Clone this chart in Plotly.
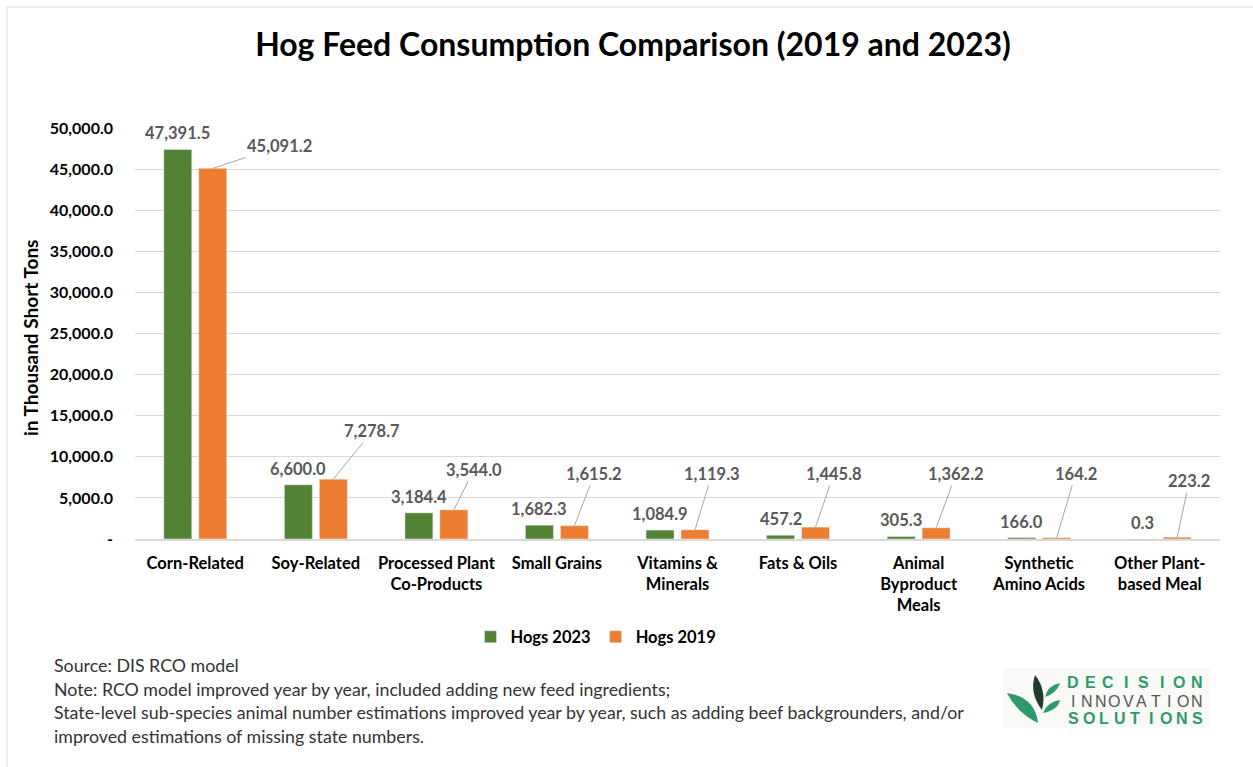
import plotly.graph_objects as go
import numpy as np

# ---------------- data ----------------
categories = ["Corn-Related", "Soy-Related", "Processed Plant<br>Co-Products", "Small Grains",
              "Vitamins &<br>Minerals", "Fats & Oils", "Animal<br>Byproduct<br>Meals",
              "Synthetic<br>Amino Acids", "Other Plant-<br>based Meal"]
hogs_2023 = [47391.5, 6600.0, 3184.4, 1682.3, 1084.9, 457.2, 305.3, 166.0, 0.3]
hogs_2019 = [45091.2, 7278.7, 3544.0, 1615.2, 1119.3, 1445.8, 1362.2, 164.2, 223.2]
y_tickvals = [0, 5000, 10000, 15000, 20000, 25000, 30000, 35000, 40000, 45000, 50000]
y_ticktext = ["-", "5,000.0", "10,000.0", "15,000.0", "20,000.0", "25,000.0",
              "30,000.0", "35,000.0", "40,000.0", "45,000.0", "50,000.0"]

# leader-line offsets (pixels) for the 2019 labels (layout only)
label_offsets_2019 = [(67, -22), (39, -48), (20, -40), (20, -52), (17, -56),
                      (18, -53), (20, -54), (19, -64), (12, -56)]

GREEN = "#548235"
ORANGE = "#ED7D31"
FONT = "Lato"

W, H = 1253, 767
L, R, T, B = 135, 1220, 128, 539


def px(x):
    return (x - L) / (R - L)


def py(y):
    return (B - y) / (B - T)


fig = go.Figure()
fig.add_trace(go.Bar(x=categories, y=hogs_2023, name="Hogs 2023", marker_color=GREEN))
fig.add_trace(go.Bar(x=categories, y=hogs_2019, name="Hogs 2019", marker_color=ORANGE))

ann = []
lab_font = dict(family=FONT, size=16.5, color="#595959", weight="bold")
for c, v in zip(categories, hogs_2023):
    ann.append(dict(x=c, y=v, xref="x", yref="y", text=f"{v:,.1f}", showarrow=False,
                    xshift=-17.5, yshift=16, yanchor="middle", font=lab_font))
for c, v, (ax, ay) in zip(categories, hogs_2019, label_offsets_2019):
    ann.append(dict(x=c, y=v, xref="x", yref="y", text=f"{v:,.1f}", showarrow=True,
                    arrowhead=0, arrowwidth=1, arrowcolor="#a6a6a6", ax=ax, ay=ay,
                    xshift=17.5, standoff=0, font=lab_font))

# y-axis title
ann.append(dict(x=px(30), y=py(338), xref="paper", yref="paper", text="in Thousand Short Tons",
                textangle=-90, showarrow=False, xanchor="center", yanchor="middle",
                font=dict(family=FONT, size=19, color="#000", weight="bold")))

# footnotes
notes = ["Source: DIS RCO model",
         "Note: RCO model improved year by year, included adding new feed ingredients;",
         "State-level sub-species animal number estimations improved year by year, such as adding beef backgrounders, and/or",
         "improved estimations of missing state numbers."]
for i, t in enumerate(notes):
    ann.append(dict(x=px(52), y=py(665 + 23.7 * i), xref="paper", yref="paper", text=t,
                    xanchor="left", yanchor="middle", showarrow=False,
                    font=dict(family=FONT, size=17.8, color="#333333")))

# logo text
logo_words = [("DECISION", 682, "#2e9a6c", "bold"), ("INNOVATION", 701, "#555555", "normal"),
              ("SOLUTIONS", 718, "#2e9a6c", "bold")]
for word, yy, col, wt in logo_words:
    xs = np.linspace(1073, 1197, len(word))
    for ch, xx in zip(word, xs):
        ann.append(dict(x=px(xx), y=py(yy), xref="paper", yref="paper", text=ch, showarrow=False,
                        xanchor="center", yanchor="middle",
                        font=dict(family="Liberation Sans", size=16, color=col, weight=wt)))


def P(x, y):
    return f"{px(x):.5f},{py(y):.5f}"


shapes = [
    # chart frame
    dict(type="rect", xref="paper", yref="paper", x0=px(7), y0=py(7), x1=px(1262), y1=py(790),
         line=dict(color="#d9d9d9", width=1), fillcolor="rgba(0,0,0,0)", layer="below"),
    # logo background
    dict(type="rect", xref="paper", yref="paper", x0=px(1003), y0=py(668), x1=px(1210), y1=py(728),
         line=dict(width=0), fillcolor="#f9faf8", layer="below"),
    # leaves
    dict(type="path", xref="paper", yref="paper",
         path=f"M{P(1007,693)} Q{P(1035,697)} {P(1038,723)} Q{P(1017,713)} {P(1007,693)} Z",
         fillcolor="#2e9a6c", line=dict(width=0)),
    dict(type="path", xref="paper", yref="paper",
         path=f"M{P(1035,675)} Q{P(1047,690)} {P(1042,710)} Q{P(1029,693)} {P(1035,675)} Z",
         fillcolor="#1e3b2e", line=dict(width=0)),
    dict(type="path", xref="paper", yref="paper",
         path=f"M{P(1060,683)} Q{P(1057,693)} {P(1045,697)} Q{P(1048,685)} {P(1060,683)} Z",
         fillcolor="#2e9a6c", line=dict(width=0)),
    dict(type="path", xref="paper", yref="paper",
         path=f"M{P(1060,700)} Q{P(1058,710)} {P(1043,713)} Q{P(1047,702)} {P(1060,700)} Z",
         fillcolor="#2e9a6c", line=dict(width=0)),
]

fig.update_layout(
    width=W, height=H,
    margin=dict(l=L, r=W - R, t=T, b=H - B, pad=0),
    paper_bgcolor="white", plot_bgcolor="white",
    barmode="group", bargap=0.42, bargroupgap=0.2,
    title=dict(text="<b>Hog Feed Consumption Comparison (2019 and 2023)</b>",
               x=633 / W, y=1 - 45 / H, xref="container", yref="container",
               xanchor="center", yanchor="middle",
               font=dict(family=FONT, size=32, color="#000")),
    legend=dict(orientation="h", x=px(596), y=py(637), xanchor="center", yanchor="middle",
                font=dict(family=FONT, size=16.5, color="#000", weight="bold"),
                bgcolor="rgba(0,0,0,0)"),
    annotations=ann, shapes=shapes,
    xaxis=dict(showline=True, linecolor="#d9d9d9", linewidth=1.5, showgrid=False,
               tickfont=dict(family=FONT, size=16.5, color="#000", weight="bold"),
               ticks="", ticklabelstandoff=8),
    yaxis=dict(range=[0, 50000], tickvals=y_tickvals, ticktext=y_ticktext,
               showgrid=True, gridcolor="#d9d9d9", gridwidth=1, zeroline=False, showline=False,
               tickfont=dict(family=FONT, size=16, color="#000", weight="bold"),
               ticks="", ticklabelstandoff=21),
)

fig.write_html("out.html", config={"displayModeBar": False},
               post_script="document.body.style.margin='0';")
